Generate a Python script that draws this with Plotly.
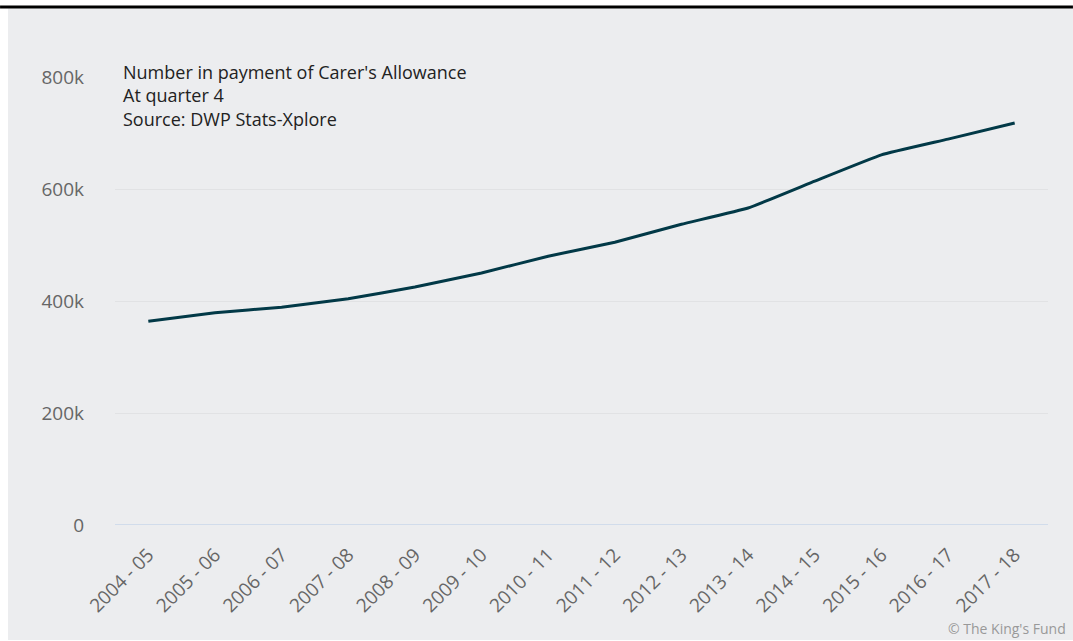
import plotly.graph_objects as go

# Financial years, quarter 4 snapshot
years = ["2004 - 05", "2005 - 06", "2006 - 07", "2007 - 08", "2008 - 09",
         "2009 - 10", "2010 - 11", "2011 - 12", "2012 - 13", "2013 - 14",
         "2014 - 15", "2015 - 16", "2016 - 17", "2017 - 18"]
# Number in payment of Carer's Allowance
claimants = [364000, 379000, 389000, 404000, 425000, 450000, 480000,
             505000, 537000, 566000, 614000, 661000, 689000, 718000]

y_ticks = [0, 200000, 400000, 600000, 800000]
y_tick_text = ["0", "200k", "400k", "600k", "800k"]

font_family = "Open Sans, Lato, sans-serif"

W, H = 1073, 641
ML, MR, MT, MB = 115, 25, 77, 116
PW, PH = W - ML - MR, H - MT - MB


def px_x(px):
    return (px - ML) / PW


def px_y(py):
    return (H - MB - py) / PH


fig = go.Figure()
fig.add_trace(go.Scatter(
    x=years, y=claimants, mode="lines",
    line=dict(color="#023947", width=3, shape="spline", smoothing=0.3),
    hoverinfo="x+y",
))

fig.update_layout(
    width=W, height=H,
    paper_bgcolor="#ffffff", plot_bgcolor="rgba(0,0,0,0)",
    margin=dict(l=ML, r=MR, t=MT, b=MB),
    showlegend=False,
    font=dict(family=font_family, color="#666666", size=18),
    xaxis=dict(
        type="category", range=[-0.5, 13.5], tickangle=-45,
        showgrid=False, zeroline=False, showline=False, ticks="",
        ticklabelstandoff=14, automargin=False,
        tickfont=dict(size=19, color="#666666"),
    ),
    yaxis=dict(
        range=[0, 800000], tickvals=y_ticks, ticktext=y_tick_text,
        showgrid=True, gridcolor="#e1e2e4", gridwidth=1,
        zeroline=False, showline=False, ticks="", ticklabelstandoff=30,
        automargin=False,
        tickfont=dict(size=19, color="#666666"),
    ),
    shapes=[
        # grey chart panel
        dict(type="rect", xref="paper", yref="paper", layer="below",
             x0=px_x(8), x1=px_x(W - 0.05), y0=px_y(640), y1=px_y(8.5),
             fillcolor="#ecedef", line=dict(width=0)),
        # dark rule along the top
        dict(type="rect", xref="paper", yref="paper",
             x0=px_x(0.05), x1=px_x(W - 0.05), y0=px_y(8.5), y1=px_y(5.5),
             fillcolor="#000000", line=dict(width=0)),
        # baseline
        dict(type="line", xref="paper", yref="y", x0=0, x1=1,
             y0=0, y1=0, line=dict(color="#c9d6ea", width=1.5)),
    ],
    annotations=[
        dict(text="Number in payment of Carer's Allowance<br>At quarter 4<br>Source: DWP Stats-Xplore",
             xref="paper", yref="paper", x=px_x(121), y=px_y(58),
             xanchor="left", yanchor="top", align="left", showarrow=False,
             font=dict(family=font_family, size=18, color="#222222")),
        dict(text="© The King's Fund", xref="paper", yref="paper",
             x=px_x(1067), y=px_y(628), xanchor="right", yanchor="middle",
             showarrow=False, borderpad=0,
             font=dict(family=font_family, size=14, color="#999999")),
    ],
)

# keep the page itself from scrolling so the chart fills the window
fig.write_html(
    "out.html",
    post_script="document.documentElement.style.overflow='hidden';"
                "document.body.style.overflow='hidden';"
                "document.body.style.margin='0';",
)
